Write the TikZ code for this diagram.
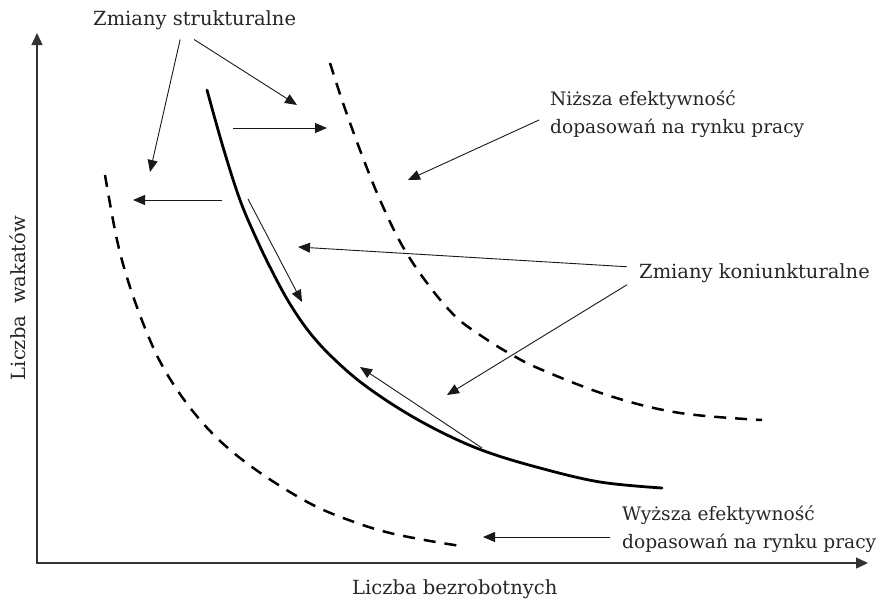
\documentclass[tikz,border=0pt]{standalone}
\usepackage{fontspec}
\setmainfont{DejaVu Serif}
\usetikzlibrary{arrows.meta}
\begin{document}
\begin{tikzpicture}[x=1pt,y=-1pt,
  lbl/.style={inner sep=0pt,font=\fontsize{19.5}{28}\selectfont,text=black!85},
  lbltwo/.style={lbl,align=left,font=\fontsize{18.6}{28}\selectfont},
  axisline/.style={line width=1.3pt,black!80,{Triangle[length=12pt,width=11pt]}-{Triangle[length=12pt,width=11pt]}},
  thinarrow/.style={line width=0.9pt,black!90,-{Triangle[length=12pt,width=10pt]}},
  solidcurve/.style={line width=2.8pt,line cap=round},
  dashcurve/.style={line width=2.5pt,dash pattern=on 12pt off 9pt}]
\useasboundingbox (0,0) rectangle (886,600);
% axes
\coordinate (Ytop) at (37,33);
\coordinate (O) at (37,563);
\coordinate (Xend) at (868,563);
\draw[axisline] (Ytop) -- (O) -- (Xend);
% labels
\node[lbl,anchor=base west] (zs) at (93,25) {Zmiany strukturalne};
\node[lbltwo,anchor=west] (nz) at (550,114) {Niższa efektywność\\dopasowań na rynku pracy};
\node[lbl,anchor=base west] (zk) at (639,278) {Zmiany koniunkturalne};
\node[lbltwo,anchor=west] (wy) at (622,529) {Wyższa efektywność\\dopasowań na rynku pracy};
\node[lbl,anchor=base west] (xl) at (352,594) {Liczba bezrobotnych};
\node[lbl,rotate=90,anchor=base] (yl) at (25,298) {Liczba\hspace{0.6em}wakatów};
% curves
\draw[solidcurve] plot[smooth,tension=0.6] coordinates {(207,90) (223,147) (240,200) (257,240) (273,273) (290,304) (310,333) (333,358) (363,384) (403,411) (445,434) (487,452) (540,468) (600,482) (662,488)};
\draw[dashcurve] plot[smooth,tension=0.6] coordinates {(105,175) (117,240) (130,287) (147,333) (163,367) (185,401) (211,432) (240,458) (277,484) (317,507) (357,523) (390,533) (430,541) (461,546)};
\draw[dashcurve] plot[smooth,tension=0.6] coordinates {(330,63) (343,103) (360,150) (380,200) (403,247) (430,287) (456,317) (480,335) (507,352) (540,369) (610,396) (680,413) (762,420)};
% arrow endpoints
\coordinate (t1) at (150,172);
\coordinate (t2) at (297,105);
\coordinate (h1s) at (233,128);
\coordinate (h1e) at (327,128);
\coordinate (h2s) at (222,200);
\coordinate (h2e) at (133,200);
\coordinate (d1s) at (248,199);
\coordinate (d1e) at (302,302);
\coordinate (u1s) at (482,448);
\coordinate (u1e) at (360,367);
\coordinate (t3) at (408,180);
\coordinate (t4) at (298,247);
\coordinate (t5) at (447,395);
\coordinate (t6) at (483,537);
% arrows
\draw[thinarrow] ([shift={(-14.5,10)}]zs.south) -- (t1);
\draw[thinarrow] ([shift={(-0.5,10)}]zs.south) -- (t2);
\draw[thinarrow] (h1s) -- (h1e);
\draw[thinarrow] (h2s) -- (h2e);
\draw[thinarrow] (d1s) -- (d1e);
\draw[thinarrow] (u1s) -- (u1e);
\draw[thinarrow] ([shift={(-11,6)}]nz.west) -- (t3);
\draw[thinarrow] ([shift={(-12,-6)}]zk.west) -- (t4);
\draw[thinarrow] ([shift={(-12,12)}]zk.west) -- (t5);
\draw[thinarrow] ([shift={(-12,8)}]wy.west) -- (t6);
\end{tikzpicture}
\end{document}
